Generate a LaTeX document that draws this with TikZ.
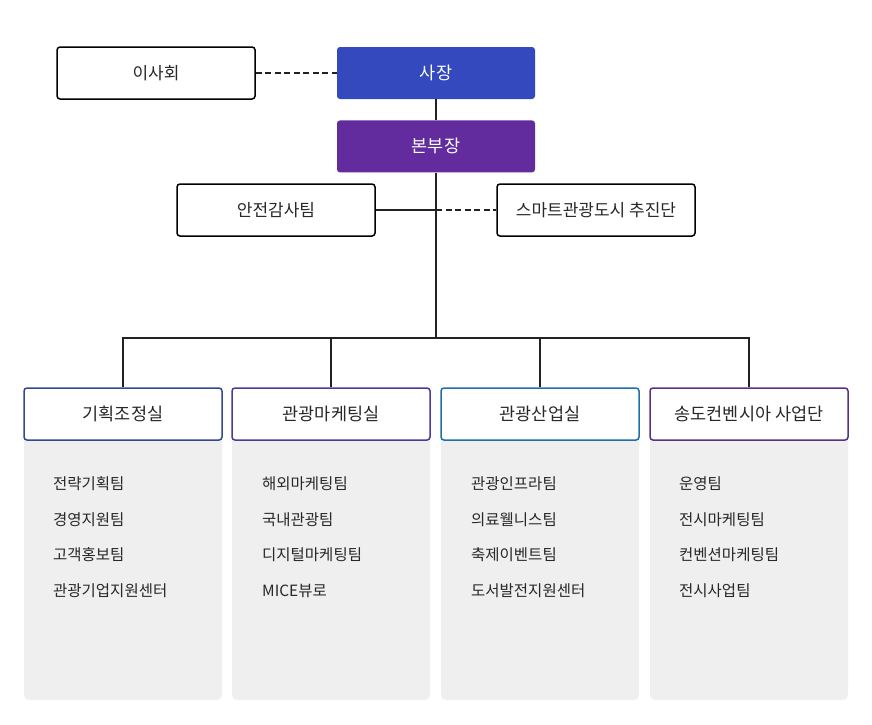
\documentclass[tikz,border=0pt]{standalone}
\usepackage{fontspec}
\setmainfont{Noto Sans CJK KR}
\usetikzlibrary{positioning}

\begin{document}
\begin{tikzpicture}[x=1pt, y=-1pt,
    box/.style={rectangle, draw, rounded corners=3pt, line width=1.5pt, minimum width=198pt, minimum height=52pt, font=\fontsize{17}{19}\selectfont, text=textgray},
    headbox/.style={rectangle, rounded corners=3pt, minimum width=198pt, minimum height=52pt, font=\fontsize{17.5}{19}\selectfont, text=white},
    deptbox/.style={box, fill=white, font=\fontsize{17.5}{19}\selectfont},
    item/.style={anchor=base west, inner sep=0pt, font=\fontsize{15.5}{17}\selectfont, text=textgray},
    line/.style={line width=1.5pt, draw=linegray},
    dline/.style={line, dashed, dash pattern=on 6pt off 3.5pt}]

    % Define colors
    \definecolor{textgray}{RGB}{40,40,40}
    \definecolor{linegray}{RGB}{34,34,34}
    \definecolor{ceocolor}{RGB}{52,73,190}
    \definecolor{vicecolor}{RGB}{98,44,158}
    \definecolor{planecolor}{RGB}{50,72,150}
    \definecolor{marketcolor}{RGB}{78,56,160}
    \definecolor{industrycolor}{RGB}{30,112,172}
    \definecolor{songdocolor}{RGB}{92,48,132}
    \definecolor{panelgray}{RGB}{239,239,239}

    \useasboundingbox (0,0) rectangle (872,724);

    % Top nodes
    \node[headbox, fill=ceocolor] (ceo) at (436,73) {사장};
    \node[headbox, fill=vicecolor, below=21pt of ceo] (vice) {본부장};
    \node[box, fill=white, left=81pt of ceo] (board) {이사회};
    \node[box, fill=white] (audit) at (276,210) {안전감사팀};
    \node[box, fill=white] (smart) at (596,210) {스마트관광도시 추진단};
    \coordinate (hub) at (436,210);
    \coordinate (bus) at (436,338);

    % Grey panels
    \foreach \x in {24,232,441,650}
        \fill[panelgray, rounded corners=5pt] (\x,430) rectangle ++(198,270);

    % Departments
    \node[deptbox, draw=planecolor] (plan) at (123,414) {기획조정실};
    \node[deptbox, draw=marketcolor] (market) at (331,414) {관광마케팅실};
    \node[deptbox, draw=industrycolor] (industry) at (540,414) {관광산업실};
    \node[deptbox, draw=songdocolor] (songdo) at (749,414) {송도컨벤시아 사업단};

    % Connectors
    \draw[dline] (board.east) -- (ceo.west);
    \draw[line] (ceo.south) -- (vice.north);
    \draw[line] (vice.south) -- (bus);
    \draw[line] (audit.east) -- (hub);
    \draw[dline] (hub) -- (smart.west);
    \draw[line] (plan.north) |- (bus) -| (songdo.north);
    \draw[line] (market.north) -- (market.north |- bus);
    \draw[line] (industry.north) -- (industry.north |- bus);

    % Teams
    \foreach \t [count=\i] in {전략기획팀, 경영지원팀, 고객홍보팀, 관광기업지원센터}
        \node[item] (plan\i) at (53,454+35.6*\i) {\t};
    \foreach \t [count=\i] in {해외마케팅팀, 국내관광팀, 디지털마케팅팀, MICE뷰로}
        \node[item] (market\i) at (262,454+35.6*\i) {\t};
    \foreach \t [count=\i] in {관광인프라팀, 의료웰니스팀, 축제이벤트팀, 도서발전지원센터}
        \node[item] (industry\i) at (471,454+35.6*\i) {\t};
    \foreach \t [count=\i] in {운영팀, 전시마케팅팀, 컨벤션마케팅팀, 전시사업팀}
        \node[item] (songdo\i) at (679,454+35.6*\i) {\t};

\end{tikzpicture}
\end{document}
